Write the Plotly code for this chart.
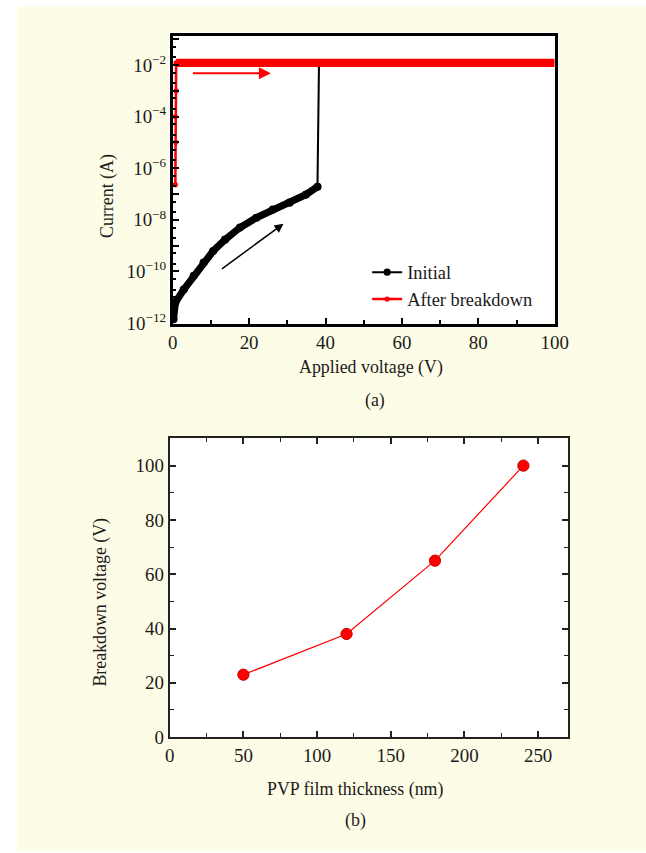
import plotly.graph_objects as go

# ---------------- data ----------------
# (a) I-V curves
init_curve_v = [0.2, 0.7, 2.9, 5.5, 8.1, 10.6, 13.7, 17.6, 21.9, 26.2, 30.6, 34.9, 37.9]
init_curve_i = [1.4e-12, 6.3e-12, 2.0e-11, 6.8e-11, 2.2e-10, 6.2e-10, 1.7e-9, 5.0e-9,
                1.2e-8, 2.5e-8, 4.6e-8, 9.5e-8, 1.9e-7]
init_jump_v = [37.9, 38.3]
init_jump_i = [1.9e-7, 1.2e-2]

after_rise_v = [0.7, 0.8, 0.7, 0.9, 0.9]
after_rise_i = [2.3e-7, 1.0e-5, 1.0e-4, 1.0e-3, 1.2e-2]
after_flat_v = [0.9, 100]
after_flat_i = [1.2e-2, 1.2e-2]

y_tick_vals = [1e-12, 1e-11, 1e-10, 1e-9, 1e-8, 1e-7, 1e-6, 1e-5, 1e-4, 1e-3, 1e-2, 1e-1]
y_tick_text = ["10<sup>−12</sup>", "", "10<sup>−10</sup>", "", "10<sup>−8</sup>", "",
               "10<sup>−6</sup>", "", "10<sup>−4</sup>", "", "10<sup>−2</sup>", ""]

# (b) breakdown voltage vs thickness
thickness_nm = [50, 120, 180, 240]
breakdown_v = [23, 38, 65, 100]

# ---------------- figure ----------------
W, H = 646, 853            # reference picture coordinates (positions given as fractions)
FIG_W, FIG_H = 660, 863    # page size actually captured
K = FIG_W / W              # size compensation
BG = "#FDFCE6"
FONT = "Liberation Serif"
TXT = "#1a1a1a"

def px(x):
    return x / W

def py(y):
    return 1 - y / H

def s(v):
    return round(v * K, 2)

fig = go.Figure()

fig.add_trace(go.Scatter(x=init_curve_v, y=init_curve_i, mode="lines+markers",
                         line=dict(color="black", width=s(7)), marker=dict(color="black", size=s(8)),
                         showlegend=False, xaxis="x", yaxis="y"))
fig.add_trace(go.Scatter(x=init_jump_v, y=init_jump_i, mode="lines+markers", name="Initial",
                         line=dict(color="black", width=s(2)), marker=dict(color="black", size=s(7)),
                         xaxis="x", yaxis="y"))
fig.add_trace(go.Scatter(x=after_rise_v, y=after_rise_i, mode="lines+markers", name="After breakdown",
                         line=dict(color="#FF0000", width=s(2.5)), marker=dict(color="#FF0000", size=s(5)),
                         xaxis="x", yaxis="y"))
fig.add_trace(go.Scatter(x=after_flat_v, y=after_flat_i, mode="lines",
                         line=dict(color="#FF0000", width=s(8)),
                         showlegend=False, xaxis="x", yaxis="y"))

fig.add_trace(go.Scatter(x=thickness_nm, y=breakdown_v, mode="lines+markers",
                         line=dict(color="#FF0000", width=s(1.2)),
                         marker=dict(color="#FF0000", size=s(11), line=dict(color="#C00000", width=1)),
                         showlegend=False, xaxis="x2", yaxis="y2"))

tickfont = dict(family=FONT, size=s(18.5), color=TXT)

fig.update_layout(
    width=FIG_W, height=FIG_H,
    autosize=False,
    hovermode=False,
    margin=dict(l=0, r=0, t=0, b=0),
    paper_bgcolor="white",
    plot_bgcolor="rgba(0,0,0,0)",
    font=dict(family=FONT, size=s(17.5), color=TXT),
    xaxis=dict(domain=[px(169), px(554)], range=[0, 100], anchor="y",
               tickvals=[0, 20, 40, 60, 80, 100], ticks="inside", ticklen=6, tickwidth=2,
               tickcolor="black", minor=dict(ticks="inside", ticklen=4, tickwidth=1.5,
                                              tickvals=[10, 30, 50, 70, 90], tickcolor="black"),
               showline=True, linecolor="black", linewidth=2.5, mirror=True,
               showgrid=False, zeroline=False, tickfont=tickfont),
    yaxis=dict(domain=[py(324), py(36)], type="log", range=[-12.02, -0.88], anchor="x",
               tickvals=y_tick_vals, ticktext=y_tick_text, ticks="inside", ticklen=7,
               tickwidth=2, tickcolor="black",
               minor=dict(ticks="inside", ticklen=4, tickwidth=1.5, dtick="D2", tickcolor="black"),
               showline=True, linecolor="black", linewidth=2.5, mirror=True,
               showgrid=False, zeroline=False, tickfont=tickfont),
    xaxis2=dict(domain=[px(166), px(567)], range=[0, 270], anchor="y2",
                tickvals=[0, 50, 100, 150, 200, 250], ticks="inside", ticklen=6, tickwidth=1.5,
                tickcolor="#222", minor=dict(ticks="inside", ticklen=4, tickwidth=1.2,
                                             tickvals=[25, 75, 125, 175, 225], tickcolor="#222"),
                showline=True, linecolor="#222", linewidth=2, mirror="ticks",
                showgrid=False, zeroline=False, tickfont=tickfont),
    yaxis2=dict(domain=[py(738), py(439)], range=[0, 110], anchor="x2",
                tickvals=[0, 20, 40, 60, 80, 100], ticks="inside", ticklen=6, tickwidth=1.5,
                tickcolor="#222", minor=dict(ticks="inside", ticklen=4, tickwidth=1.2,
                                             tickvals=[10, 30, 50, 70, 90], tickcolor="#222"),
                showline=True, linecolor="#222", linewidth=2, mirror="ticks",
                showgrid=False, zeroline=False, tickfont=tickfont),
    legend=dict(x=px(365), y=py(254), xanchor="left", yanchor="top",
                bgcolor="rgba(0,0,0,0)", font=dict(family=FONT, size=s(18), color=TXT),
                tracegroupgap=0, itemwidth=30),
    showlegend=True,
)

shapes = [
    dict(type="rect", xref="paper", yref="paper", x0=px(12), x1=1, y0=0, y1=py(7),
         fillcolor=BG, line=dict(width=0), layer="below"),
    dict(type="rect", xref="paper", yref="paper", x0=px(165), x1=px(558), y0=py(328), y1=py(32),
         fillcolor="white", line=dict(width=0), layer="below"),
    dict(type="rect", xref="paper", yref="paper", x0=px(166), x1=px(567), y0=py(738), y1=py(439),
         fillcolor="white", line=dict(width=0), layer="below"),
]
fig.update_layout(shapes=shapes)

def label(text, x, y, angle=0):
    return dict(text=text, x=px(x), y=py(y), xref="paper", yref="paper",
                xanchor="center", yanchor="middle", textangle=angle, showarrow=False)

ann = [
    label("Current (A)", 104, 196, -90),
    label("Applied voltage (V)", 369, 368),
    label("(a)", 373, 401),
    label("Breakdown voltage (V)", 96, 603, -90),
    label("PVP film thickness (nm)", 353, 790),
    label("(b)", 353, 821),
]
# arrows (log axis -> exponents)
ann.append(dict(x=25.7, y=-2.32, ax=4.9, ay=-2.32, xref="x", yref="y", axref="x", ayref="y",
                text="", showarrow=True, arrowhead=2, arrowsize=1.2, arrowwidth=2,
                arrowcolor="#FF0000"))
ann.append(dict(x=29.0, y=-8.15, ax=12.5, ay=-9.94, xref="x", yref="y", axref="x", ayref="y",
                text="", showarrow=True, arrowhead=2, arrowsize=1.2, arrowwidth=1.5,
                arrowcolor="black"))
fig.update_layout(annotations=ann)

post = (
    "document.documentElement.style.margin='0';"
    "document.documentElement.style.padding='0';"
    "document.documentElement.style.overflow='hidden';"
    "document.body.style.margin='0';"
    "document.body.style.padding='0';"
    "document.body.style.overflow='hidden';"
)
fig.write_html("out.html", config={"displayModeBar": False, "responsive": False},
               post_script=post)
